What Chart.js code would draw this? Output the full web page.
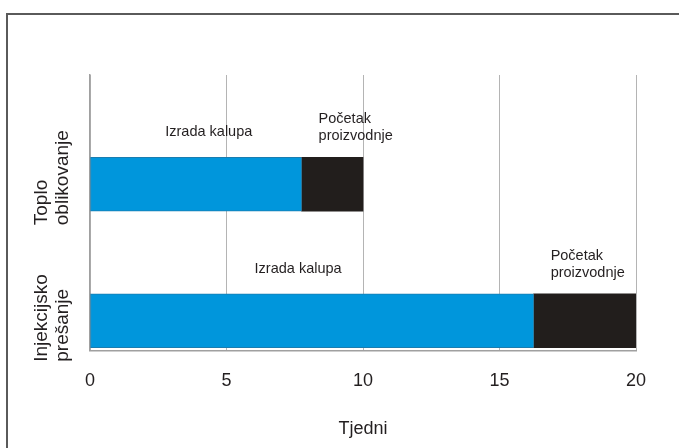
<!DOCTYPE html>
<html>
<head>
<meta charset="utf-8">
<script src="https://cdn.jsdelivr.net/npm/chart.js@4"></script>
<style>
  html, body { margin: 0; padding: 0; background: #fff; }
  #wrap { position: relative; width: 679px; height: 448px; overflow: hidden; }
  #frame {
    position: absolute; left: 6px; top: 13px; width: 800px; height: 600px;
    border-left: 2px solid #5a5a5a; border-top: 2px solid #5a5a5a;
  }
  #chart { position: absolute; left: 0; top: 0; }
</style>
</head>
<body>
<div id="wrap">
  <div id="frame"></div>
  <canvas id="chart" width="679" height="448"></canvas>
</div>
<script>
const categories = [['Toplo', 'oblikovanje'], ['Injekcijsko', 'prešanje']];
const izradaKalupa = [7.75, 16.25];
const pocetakProizvodnje = [2.25, 3.75];
const xTicks = [0, 5, 10, 15, 20];
const phaseLabels = ['Izrada kalupa', ['Početak', 'proizvodnje']];

const textColor = '#231f20';
const fontFamily = '"Liberation Sans", Arial, sans-serif';

const annotations = {
  id: 'annotations',
  afterDatasetsDraw(chart) {
    const { ctx } = chart;
    const yScale = chart.scales.y;
    const blue = chart.getDatasetMeta(0).data;
    const black = chart.getDatasetMeta(1).data;
    ctx.save();
    ctx.fillStyle = textColor;
    ctx.textBaseline = 'middle';

    // phase labels above each bar
    ctx.font = '14.5px ' + fontFamily;
    blue.forEach((bar, i) => {
      const top = bar.y - bar.height / 2;
      ctx.textAlign = 'center';
      ctx.fillText(phaseLabels[0], bar.base + 37 + 0.385 * (bar.x - bar.base), top - 25);
      const b = black[i];
      ctx.textAlign = 'left';
      phaseLabels[1].forEach((line, k) => {
        ctx.fillText(line, b.base + 17, top - 38 + k * 17);
      });
    });

    // rotated category labels, reading upwards from below the bar centre
    ctx.font = '19px ' + fontFamily;
    ctx.textAlign = 'left';
    categories.forEach((lines, i) => {
      const y = yScale.getPixelForValue(i);
      lines.forEach((line, k) => {
        ctx.save();
        ctx.translate(42 + k * 21, y + 41);
        ctx.rotate(-Math.PI / 2);
        ctx.fillText(line, 0, 0);
        ctx.restore();
      });
    });
    ctx.restore();
  }
};

new Chart(document.getElementById('chart'), {
  type: 'bar',
  data: {
    datasets: [
      {
        label: 'Izrada kalupa',
        data: izradaKalupa.map((v, i) => ({ x: v, y: i })),
        backgroundColor: '#0096dc',
        borderColor: '#1a7db0',
        borderWidth: { top: 1, bottom: 1, left: 1, right: 0 },
        borderSkipped: false,
        barThickness: 54
      },
      {
        label: 'Početak proizvodnje',
        data: pocetakProizvodnje.map((v, i) => ({ x: v, y: i })),
        backgroundColor: '#221e1c',
        barThickness: 54
      }
    ]
  },
  options: {
    indexAxis: 'y',
    responsive: false,
    animation: false,
    layout: { padding: { left: 90, top: 75, right: 43, bottom: 8 } },
    plugins: {
      legend: { display: false },
      tooltip: { enabled: false }
    },
    scales: {
      x: {
        type: 'linear',
        stacked: true,
        min: 0,
        max: 20,
        afterBuildTicks: (scale) => { scale.ticks = xTicks.map((v) => ({ value: v })); },
        ticks: {
          padding: 19,
          color: textColor,
          font: { family: fontFamily, size: 18 }
        },
        grid: { color: '#b4b4b4', lineWidth: 1, drawTicks: false },
        border: { display: true, color: '#a0a0a0', width: 1.5 },
        title: {
          display: true,
          text: 'Tjedni',
          color: textColor,
          font: { family: fontFamily, size: 18 },
          padding: { top: 8, bottom: 0 }
        }
      },
      y: {
        type: 'linear',
        stacked: true,
        reverse: true,
        offset: false,
        min: -0.8,
        max: 1.22,
        ticks: { display: false },
        grid: { display: false, drawTicks: false, offset: false },
        border: { display: true, color: '#a0a0a0', width: 1.5 }
      }
    }
  },
  plugins: [annotations]
});
</script>
</body>
</html>
